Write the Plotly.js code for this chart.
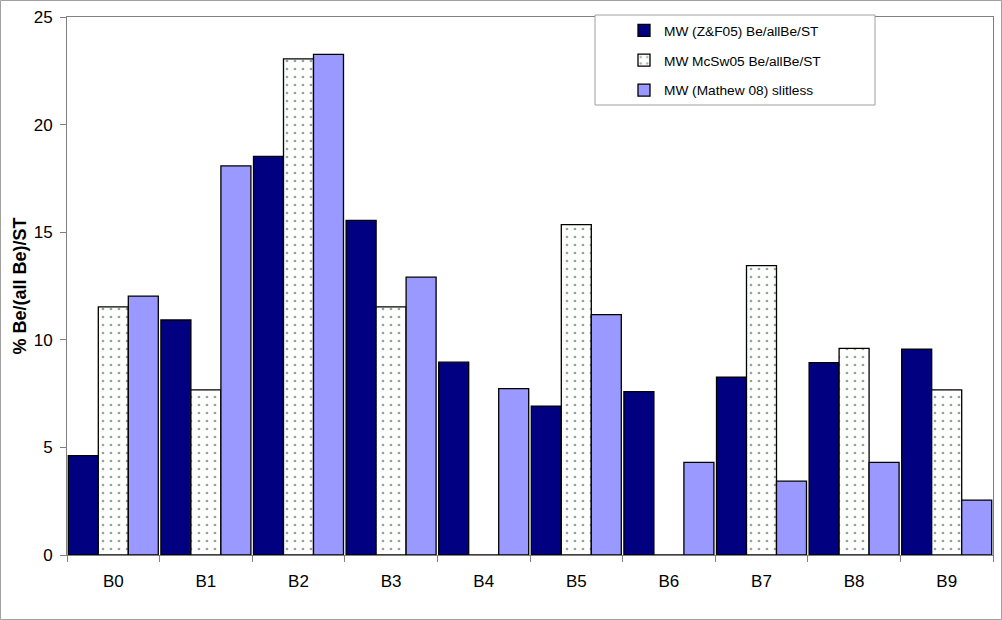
<!DOCTYPE html>
<html>
<head>
<meta charset="utf-8">
<script src="https://cdn.plot.ly/plotly-3.0.1.min.js"></script>
<style>
html,body{margin:0;padding:0;background:#fff;}
#chart{width:1002px;height:620px;}
</style>
</head>
<body>
<div id="chart"></div>
<script>
const categories = ["B0","B1","B2","B3","B4","B5","B6","B7","B8","B9"];
const seriesNames = ["MW (Z&F05) Be/allBe/ST","MW McSw05 Be/allBe/ST","MW (Mathew 08) slitless"];
const zf05 =   [4.62, 10.92, 18.52, 15.55, 8.96, 6.92, 7.59, 8.27, 8.94, 9.57];
const mcsw05 = [11.53, 7.67, 23.05, 11.53, 0, 15.35, 0, 13.45, 9.60, 7.67];
const mathew08 = [12.03, 18.08, 23.26, 12.91, 7.73, 11.17, 4.30, 3.43, 4.30, 2.55];
const yTicks = [0,5,10,15,20,25];

const W = 1002, H = 620;
const L = 67, R = 9, T = 17, B = 65;
const pw = W - L - R, ph = H - T - B;
function px2x(p){ return (p - L) / pw; }
function py2y(p){ return (H - B - p) / ph; }

const font = "Arial, 'Liberation Sans', sans-serif";
const outline = {color:"#000000", width:1.3};

const traces = [
  {type:"bar", x:categories, y:zf05, name:seriesNames[0], legendgroup:"a",
   marker:{color:"#000080", line:outline}},
  {type:"bar", x:categories, y:mcsw05, name:seriesNames[1], legendgroup:"b",
   marker:{color:"#ffffff", line:outline,
     pattern:{shape:".", fgcolor:"#1f4f1f", bgcolor:"#ffffff", size:8, solidity:0.09, fillmode:"overlay"}}},
  {type:"bar", x:categories, y:mathew08, name:seriesNames[2], legendgroup:"c",
   marker:{color:"#9999ff", line:outline}}
];

const layout = {
  width: W, height: H,
  margin:{l:L, r:R, t:T, b:B, pad:0},
  paper_bgcolor:"#ffffff", plot_bgcolor:"#ffffff",
  barmode:"group", bargap:0.028, bargroupgap:0,
  font:{family:font, color:"#000000", size:17},
  showlegend:true,
  legend:{x:px2x(624), y:py2y(15), xanchor:"left", yanchor:"top",
    bgcolor:"rgba(0,0,0,0)", borderwidth:0, tracegroupgap:9,
    traceorder:"grouped", font:{family:font, size:13.7, color:"#000"}},
  xaxis:{type:"category", range:[-0.5,9.5], tickson:"boundaries",
    ticks:"outside", ticklen:6, tickcolor:"#808080", tickwidth:1,
    showline:true, linecolor:"#808080", linewidth:1, mirror:true,
    showgrid:false, zeroline:false, tickfont:{size:17, family:font},
    ticklabelstandoff:11},
  yaxis:{range:[0,25], tickvals:yTicks, ticktext:yTicks.map(String),
    ticks:"outside", ticklen:6, tickcolor:"#808080", tickwidth:1,
    showline:true, linecolor:"#808080", linewidth:1, mirror:true,
    showgrid:false, zeroline:false, tickfont:{size:17, family:font},
    ticklabelstandoff:4,
    title:{text:"% Be/(all Be)/ST", font:{size:18, family:font, weight:"bold"}, standoff:2}},
  shapes:[
    {type:"rect", xref:"paper", yref:"paper", layer:"above",
     x0:px2x(595), x1:px2x(875), y0:py2y(105), y1:py2y(15),
     fillcolor:"#ffffff", line:{color:"#a0a0a0", width:1}},
    {type:"rect", xref:"paper", yref:"paper", layer:"below",
     x0:px2x(0.5), x1:px2x(1001.5), y0:py2y(619.5), y1:py2y(0.5),
     fillcolor:"rgba(0,0,0,0)", line:{color:"#a0a0a0", width:1}}
  ]
};

Plotly.newPlot("chart", traces, layout, {displayModeBar:false, staticPlot:true});
</script>
</body>
</html>
